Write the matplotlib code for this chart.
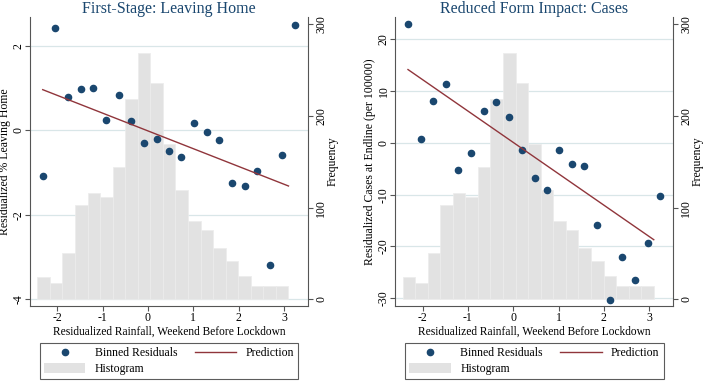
import numpy as np
import matplotlib
matplotlib.use("Agg")
import matplotlib.pyplot as plt
from matplotlib.lines import Line2D
from matplotlib.patches import Patch
import matplotlib.transforms as mtransforms

plt.rcParams["font.family"] = ["Liberation Serif", "DejaVu Serif"]
plt.rcParams["axes.unicode_minus"] = False

# binned scatter: bin centres (rainfall residual)
bin_x = [-2.32, -2.04, -1.76, -1.48, -1.21, -0.92, -0.645, -0.37, -0.09, 0.19, 0.47,
         0.74, 1.02, 1.295, 1.57, 1.85, 2.13, 2.405, 2.685, 2.965, 3.24]
leaving_home = [-1.08, 2.41, 0.79, 0.97, 0.99, 0.24, 0.83, 0.21, -0.31, -0.21, -0.48,
                -0.64, 0.18, -0.04, -0.23, -1.245, -1.31, -0.97, -3.18, -0.59, 2.50]
cases = [22.9, 0.7, 8.03, 11.4, -5.2, -1.87, 6.18, 7.84, 4.94, -1.43, -6.7,
         -9.1, -1.29, -4.0, -4.44, -15.83, -30.4, -22.0, -26.4, -19.25, -10.17]

# linear prediction end points
pred_x = [-2.32, 3.10]
pred_leaving = [0.96, -1.32]
pred_cases = [14.15, -18.7]

# histogram of rainfall residual
hist_start = -2.44
hist_width = 0.277
hist_counts = [24, 18, 50, 103, 116, 112, 144, 218, 268, 236, 169, 119, 85, 76,
               56, 42, 25, 15, 15, 15]

titles = ["First-Stage: Leaving Home", "Reduced Form Impact: Cases"]
ylabels = ["Residualized % Leaving Home", "Residualized Cases at Endline (per 100000)"]
xlabel = "Residualized Rainfall, Weekend Before Lockdown"

navy = "#1a476f"
maroon = "#90353b"
grey = "#e2e2e2"
grid_col = "#d9e6e8"
axis_col = "#555555"

fig = plt.figure(figsize=(7.03, 3.81), dpi=100)

panels = [
    (0.0427, leaving_home, pred_leaving, (-4.16, 2.68), [-4, -2, 0, 2]),
    (0.5623, cases, pred_cases, (-31.5, 24.3), [-30, -20, -10, 0, 10, 20]),
]

for i, (x0, yvals, pred, ylim, yticks) in enumerate(panels):
    ax = fig.add_axes([x0, 0.1969, 0.3954, 0.7585])
    axh = ax.twinx()
    ax.set_zorder(axh.get_zorder() + 1)
    ax.patch.set_visible(False)

    edges = hist_start + hist_width * np.arange(len(hist_counts))
    axh.bar(edges, hist_counts, width=hist_width, align="edge",
            color=grey, edgecolor="#ececec", linewidth=0.5, zorder=2)
    axh.set_ylim(-7.3, 307.8)
    axh.set_yticks([0, 100, 200, 300])

    ax.set_xlim(-2.60, 3.53)
    ax.set_ylim(*ylim)
    ax.set_yticks(yticks)
    ax.set_xticks([-2, -1, 0, 1, 2, 3])

    # gridlines at the left axis ticks, behind the histogram
    trans = mtransforms.blended_transform_factory(axh.transAxes, ax.transData)
    for t in yticks:
        axh.plot([0, 1], [t, t], transform=trans, color=grid_col, lw=0.9, zorder=1)

    ax.scatter(bin_x, yvals, s=20, color=navy, zorder=3)
    ax.plot(pred_x, pred, color=maroon, lw=1.0, zorder=4)

    for a in (ax, axh):
        a.spines["top"].set_visible(False)
        for s in a.spines.values():
            s.set_color(axis_col)
            s.set_linewidth(0.8)
        a.tick_params(colors=axis_col, labelcolor="black", length=3.6, width=0.8,
                      labelsize=8.5, pad=1.5)
    ax.tick_params(axis="y", pad=0.3)
    ax.tick_params(axis="x", pad=1.0)
    axh.spines["left"].set_visible(False)
    axh.spines["bottom"].set_visible(False)
    ax.spines["right"].set_visible(False)

    for lab in ax.get_yticklabels():
        lab.set_rotation(90)
        lab.set_va("center")
    for lab in axh.get_yticklabels():
        lab.set_rotation(90)
        lab.set_va("center")

    ax.set_title(titles[i], color=navy, fontsize=11.5, pad=3)
    ax.set_ylabel(ylabels[i], fontsize=8.5)
    ax.yaxis.set_label_coords(-0.07, 0.5)
    axh.set_ylabel("Frequency", fontsize=8.5)
    axh.yaxis.set_label_coords(1.066, 0.5)
    ax.set_xlabel(xlabel, fontsize=8.3, labelpad=1)

    handles = [
        Line2D([], [], ls="none", marker="o", ms=4.5, color=navy),
        Patch(facecolor=grey, edgecolor="none"),
        Line2D([], [], color=maroon, lw=1.0),
    ]
    labels = ["Binned Residuals", "Histogram", "Prediction"]
    lx = x0 + (10 / 703)
    leg = fig.legend(handles, labels, ncol=2, loc="upper left",
                     bbox_to_anchor=(lx, 0.0995, 0.3674, 0.0), mode="expand",
                     fontsize=8.5, frameon=True, fancybox=False, edgecolor="#333333",
                     handlelength=3.5, handleheight=0.9, handletextpad=0.8,
                     borderpad=0.35, labelspacing=0.35, borderaxespad=0)
    leg.get_frame().set_linewidth(0.8)

fig.savefig("out.png", dpi=100)
